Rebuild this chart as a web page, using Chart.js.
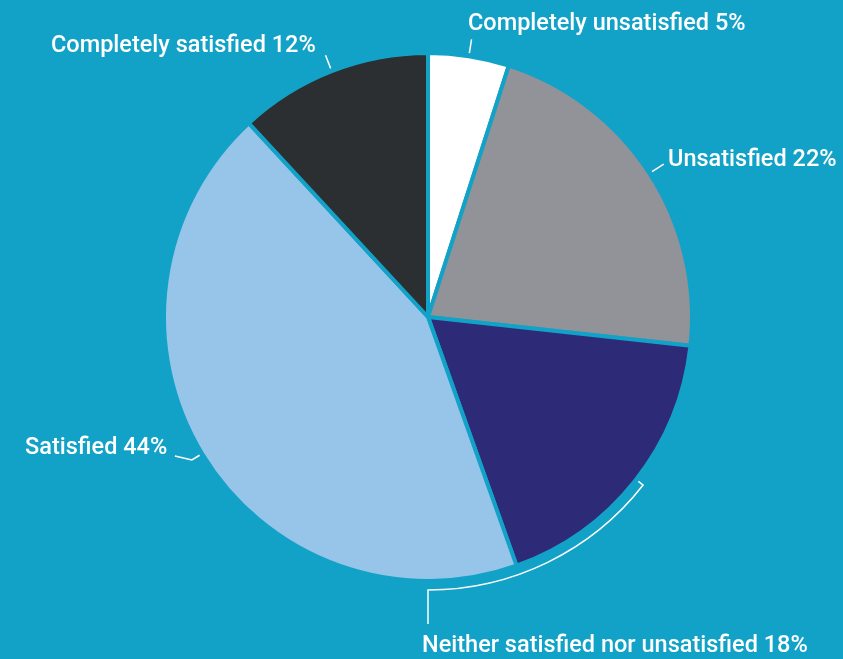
<!DOCTYPE html>
<html>
<head>
<meta charset="utf-8">
<script src="https://cdn.jsdelivr.net/npm/chart.js@4"></script>
<style>
  html, body { margin: 0; padding: 0; background: #13a2c7; }
  #wrap { width: 843px; height: 659px; }
</style>
</head>
<body>
<div id="wrap"><canvas id="satChart" width="843" height="659"></canvas></div>
<script>
const categories = [
  "Completely unsatisfied",
  "Unsatisfied",
  "Neither satisfied nor unsatisfied",
  "Satisfied",
  "Completely satisfied",
];
const shares = [5, 22, 18, 44, 12];
const sliceColors = ["#ffffff", "#919398", "#2d2a77", "#97c5e9", "#2b2f31"];
const bgColor = "#13a2c7";

// where each label text sits (left edge, baseline)
const labelPos = [
  [468, 30],
  [668, 166],
  [422, 652],
  [25, 454],
  [51, 52],
];

function deg(a) {
  return (a * Math.PI) / 180 - Math.PI / 2;
}

const labelPlugin = {
  id: "sliceLabels",
  afterDraw(chart) {
    const ctx = chart.ctx;
    const arcs = chart.getDatasetMeta(0).data;
    const cx = arcs[0].x;
    const cy = arcs[0].y;
    const r = arcs[0].outerRadius;
    const pt = (a, rad) => [cx + rad * Math.cos(a), cy + rad * Math.sin(a)];

    ctx.save();
    ctx.strokeStyle = "#ffffff";
    ctx.lineWidth = 1.5;
    ctx.lineCap = "butt";

    // plain radial ticks at slice middles
    [0, 1, 4].forEach((i) => {
      const mid = (arcs[i].startAngle + arcs[i].endAngle) / 2;
      const p1 = pt(mid, r + 3);
      const p2 = pt(mid, r + 17);
      ctx.beginPath();
      ctx.moveTo(p1[0], p1[1]);
      ctx.lineTo(p2[0], p2[1]);
      ctx.stroke();
    });

    // elbow for "Satisfied"
    const m3 = (arcs[3].startAngle + arcs[3].endAngle) / 2;
    const e1 = pt(m3, r + 3);
    const e2 = pt(m3, r + 12);
    ctx.beginPath();
    ctx.moveTo(e1[0], e1[1]);
    ctx.lineTo(e2[0], e2[1]);
    ctx.lineTo(e2[0] - 17, e2[1] - 4);
    ctx.stroke();

    // bracket along the edge for the middle slice
    const br = r + 9;
    const a0 = deg(128);
    const a1 = deg(180);
    const t0 = pt(a0, r + 3);
    const t1 = pt(a0, br);
    const end = pt(a1, br);
    ctx.beginPath();
    ctx.moveTo(t0[0], t0[1]);
    ctx.lineTo(t1[0], t1[1]);
    ctx.arc(cx, cy, br, a0, a1);
    ctx.lineTo(end[0], end[1] + 34);
    ctx.stroke();

    ctx.fillStyle = "#ffffff";
    ctx.font = "500 23.5px Roboto";
    ctx.textAlign = "left";
    ctx.textBaseline = "alphabetic";
    categories.forEach((name, i) => {
      ctx.fillText(name + " " + shares[i] + "%", labelPos[i][0], labelPos[i][1]);
    });
    ctx.restore();
  },
};

new Chart(document.getElementById("satChart"), {
  type: "pie",
  data: {
    labels: categories,
    datasets: [
      {
        data: shares,
        backgroundColor: sliceColors,
        borderColor: bgColor,
        borderWidth: 4,
      },
    ],
  },
  options: {
    responsive: false,
    animation: false,
    layout: {
      padding: { top: 51, bottom: 76, left: 13, right: 0 },
    },
    plugins: {
      legend: { display: false },
      tooltip: { enabled: false },
    },
  },
  plugins: [labelPlugin],
});
</script>
</body>
</html>
